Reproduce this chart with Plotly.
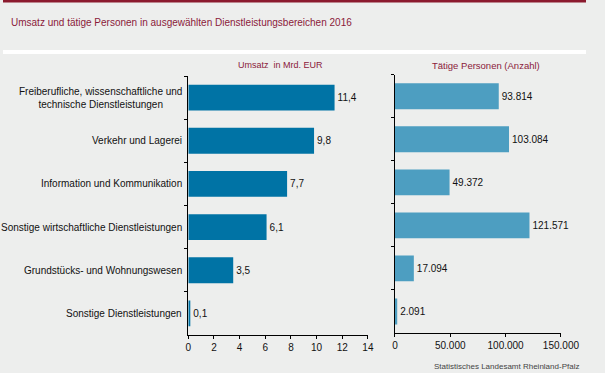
import plotly.graph_objects as go

categories = [
    "Freiberufliche, wissenschaftliche und<br>technische Dienstleistungen",
    "Verkehr und Lagerei",
    "Information und Kommunikation",
    "Sonstige wirtschaftliche Dienstleistungen",
    "Grundstücks- und Wohnungswesen",
    "Sonstige Dienstleistungen",
]
umsatz = [11.4, 9.8, 7.7, 6.1, 3.5, 0.1]
personen = [93814, 103084, 49372, 121571, 17094, 2091]
umsatz_ticks = [0, 2, 4, 6, 8, 10, 12, 14]
personen_ticks = [0, 50000, 100000, 150000]
personen_ticklabels = ["0", "50.000", "100.000", "150.000"]

W, H = 605, 373
BG = "#EDEEED"
FONT = "Liberation Sans, Arial, sans-serif"
RED = "#8B1A3A"

def px(x):
    return x / W

def py(y):
    return 1 - y / H

fig = go.Figure()
fig.add_trace(go.Bar(
    x=umsatz, y=categories, orientation="h", xaxis="x", yaxis="y",
    marker=dict(color="#0073A5", line=dict(width=0)), width=0.6,
    text=[f"{v:.1f}".replace(".", ",") for v in umsatz],
    textposition="outside", cliponaxis=False,
    textfont=dict(size=10, color="#111111", family=FONT),
))
fig.add_trace(go.Bar(
    x=personen, y=categories, orientation="h", xaxis="x2", yaxis="y2",
    marker=dict(color="#4D9EC1", line=dict(width=0)), width=0.6,
    text=[f"{v:,}".replace(",", ".") for v in personen],
    textposition="outside", cliponaxis=False,
    textfont=dict(size=10, color="#111111", family=FONT),
))

axis_common = dict(showgrid=False, zeroline=False, showline=True, linecolor="black",
                   linewidth=1, ticks="outside", ticklen=3, tickcolor="black",
                   tickfont=dict(size=10, color="#111111", family=FONT), fixedrange=True)

fig.update_layout(
    width=W, height=H, margin=dict(l=0, r=0, t=0, b=0),
    paper_bgcolor=BG, plot_bgcolor=BG, showlegend=False,
    font=dict(family=FONT),
    xaxis=dict(domain=[px(192.3), px(378.7)], range=[0, 14], tickvals=umsatz_ticks,
               anchor="y", **axis_common),
    yaxis=dict(domain=[py(335), py(76)], autorange="reversed", type="category",
               tickson="boundaries", showticklabels=False, anchor="x", **axis_common),
    xaxis2=dict(domain=[px(406.7), px(579)], range=[0, 150000], tickvals=personen_ticks,
                ticktext=personen_ticklabels, anchor="y2", **axis_common),
    yaxis2=dict(domain=[py(333), py(74.7)], autorange="reversed", type="category",
                tickson="boundaries", showticklabels=False, anchor="x2", **axis_common),
    shapes=[
        dict(type="rect", xref="paper", yref="paper", x0=0, x1=1, y0=py(2.5), y1=1,
             fillcolor="#8B1A2E", line=dict(width=0), layer="below"),
        dict(type="rect", xref="paper", yref="paper", x0=0, x1=1, y0=py(54), y1=py(50),
             fillcolor="white", line=dict(width=0), layer="below"),
    ],
)

annotations = [
    dict(text="Umsatz und tätige Personen in ausgewählten Dienstleistungsbereichen 2016",
         xref="paper", yref="paper", x=px(6), y=py(22), xanchor="left", yanchor="middle",
         showarrow=False, font=dict(size=10, color=RED, family=FONT)),
    dict(text="Umsatz  in Mrd. EUR", xref="paper", yref="paper", x=px(288), y=py(65),
         xanchor="center", yanchor="middle", showarrow=False,
         font=dict(size=9, color=RED, family=FONT)),
    dict(text="Tätige Personen (Anzahl)", xref="paper", yref="paper", x=px(501), y=py(65),
         xanchor="center", yanchor="middle", showarrow=False,
         font=dict(size=9.5, color=RED, family=FONT)),
    dict(text="Statistisches Landesamt Rheinland-Pfalz", xref="paper", yref="paper",
         x=px(600), y=py(366), xanchor="right", yanchor="middle", showarrow=False,
         font=dict(size=8, color="#444444", family=FONT)),
]
for c in categories:
    annotations.append(dict(text=c, xref="paper", yref="y", x=px(187), y=c,
                            xanchor="right", yanchor="middle", align="center",
                            borderpad=0, showarrow=False,
                            font=dict(size=10, color="#111111", family=FONT)))
fig.update_layout(annotations=annotations)

fig.write_html("out.html",
               config={"responsive": False, "displayModeBar": False},
               post_script="document.body.style.margin='0';document.body.style.overflow='hidden';")
